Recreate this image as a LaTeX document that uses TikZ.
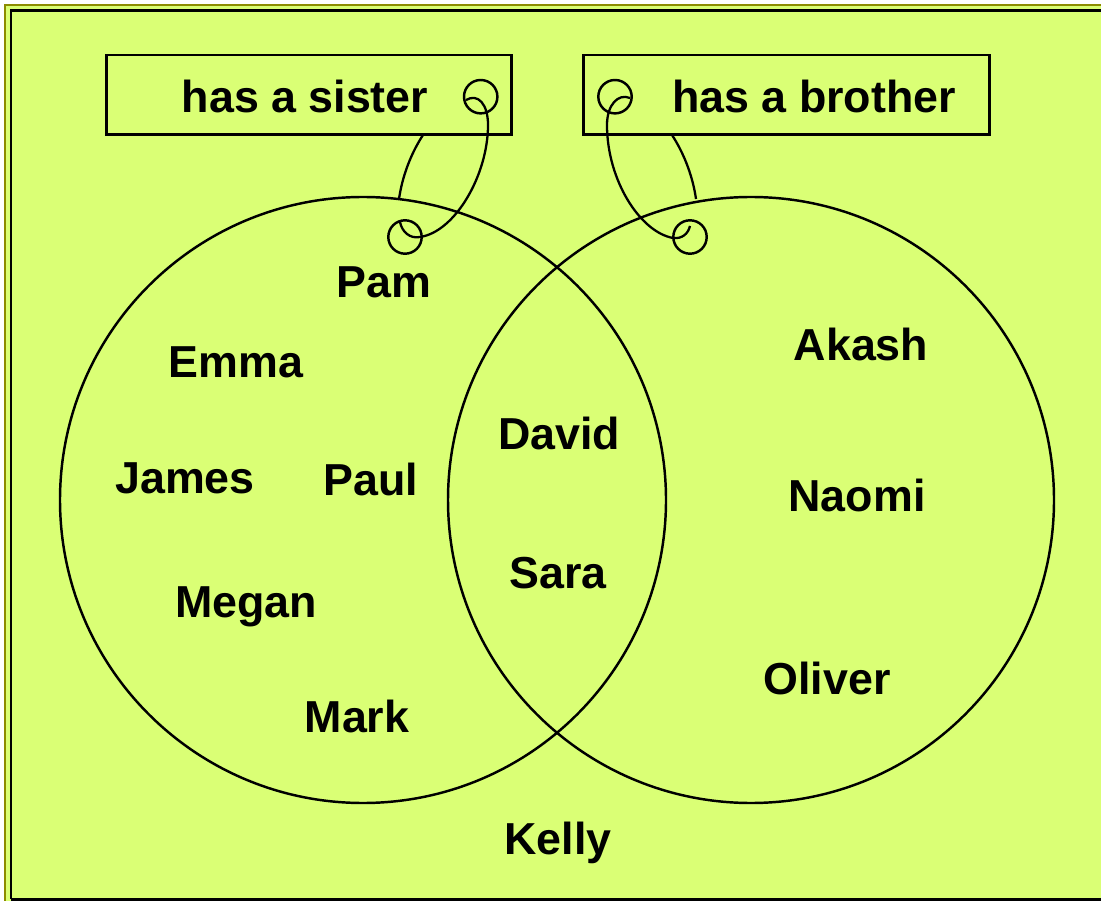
\documentclass[tikz,border=0pt]{standalone}
\usepackage{fontspec}
\setmainfont{Liberation Sans}
\usepackage{tikz}
\usetikzlibrary{positioning}
\definecolor{setfill}{RGB}{218, 255, 117}
\definecolor{frameolive}{RGB}{140, 140, 0}

\begin{document}
\begin{tikzpicture}[x=0.02cm, y=-0.02cm,
    tagbox/.style={draw, line width=1.7pt, minimum width=8.12cm, minimum height=1.6cm, inner sep=0pt},
    member/.style={anchor=base, font=\fontsize{25.5}{30}\selectfont\bfseries, inner sep=0pt},
    ring/.style={line width=1.4pt},
    string/.style={line width=1.3pt}]

  \useasboundingbox (0,0) rectangle (1101,901);
  \fill[white] (0,0) rectangle (1101,901);

  % ---------- frame ----------
  \fill[setfill] (5,5) rectangle (1101,901);
  \draw[frameolive, line width=1.1pt] (5,905) -- (5,5) -- (1105,5);
  \draw[black, line width=1.7pt] (11,899) -- (11,11) -- (1105,11);
  \draw[black, line width=1.7pt] (11,899) -- (1105,899);

  % ---------- the two sets ----------
  \draw[ring] (363,500) circle[radius=303];
  \draw[ring] (751,500) circle[radius=303];

  % ---------- labels on tags ----------
  \node[tagbox] (sisterbox) at (309,95) {};
  \node[tagbox] (brotherbox) at (786.5,95) {};
  \node[member] (sistertext) at (305,113) {has a sister};
  \node[member] (brothertext) at (814,113) {has a brother};

  % holes and strings
  \draw[ring] (480.7,96.7) circle[radius=16.7];
  \draw[ring] (615,96.7) circle[radius=16.7];
  \draw[ring] (405,237) circle[radius=16.7];
  \draw[ring] (690,237) circle[radius=16.7];

  \coordinate (sistertie) at (423,135);
  \coordinate (sisterring) at (399,199);
  \coordinate (brothertie) at (672,135);
  \coordinate (brotherring) at (696,199);
  \draw[string] (sistertie) .. controls (410,155) and (402,178) .. (sisterring);
  \draw[string] (brothertie) .. controls (685,155) and (693,178) .. (brotherring);

  \draw[string] (466,100) .. controls (478,93) and (488,104) .. (488,125)
    .. controls (488,175) and (455,232) .. (420,237)
    .. controls (410,239) and (402,232) .. (400,222);
  \draw[string] (630,98) .. controls (618,93) and (607,105) .. (607,125)
    .. controls (607,180) and (640,232) .. (673,238)
    .. controls (682,239) and (688,234) .. (690,226);

  % ---------- has a sister only ----------
  \node[member] (pam) at (384,298) {Pam};
  \node[member] (emma) at (236,378) {Emma};
  \node[member] (james) at (185,494) {James};
  \node[member] (paul) at (371,496) {Paul};
  \node[member] (megan) at (246,617) {Megan};
  \node[member] (mark) at (357,732) {Mark};

  % ---------- both ----------
  \node[member] (david) at (559,450) {David};
  \node[member] (sara) at (558,588) {Sara};

  % ---------- has a brother only ----------
  \node[member] (akash) at (861,361) {Akash};
  \node[member] (naomi) at (857,511) {Naomi};
  \node[member] (oliver) at (827,694) {Oliver};

  % ---------- neither ----------
  \node[member] (kelly) at (558,854) {Kelly};

\end{tikzpicture}
\end{document}
